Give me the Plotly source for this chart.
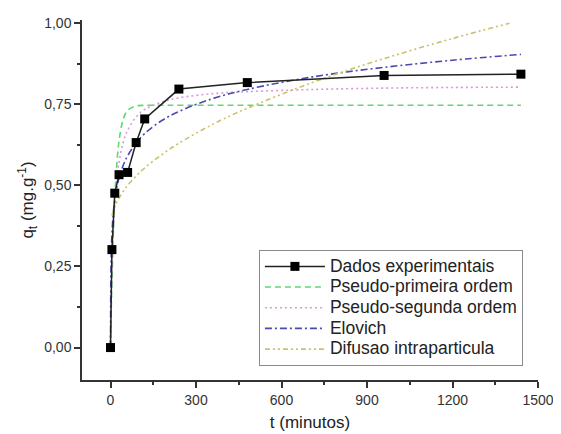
import plotly.graph_objects as go

# Experimental data
t_exp = [0, 5, 15, 30, 60, 90, 120, 240, 480, 960, 1440]
q_exp = [0.0, 0.302, 0.476, 0.533, 0.540, 0.632, 0.705, 0.797, 0.817, 0.839, 0.843]

# Model curves, values
t_mod = [0, 2, 5, 10, 15, 20, 30, 45, 60, 90, 120, 180, 240, 360, 480, 720, 960, 1200, 1440]
q_pfo = [0.0, 0.090, 0.205, 0.353, 0.461, 0.539, 0.637, 0.705, 0.731, 0.745, 0.747,
         0.747, 0.747, 0.747, 0.747, 0.747, 0.747, 0.747, 0.747]
q_pso = [0.0, 0.112, 0.231, 0.360, 0.442, 0.498, 0.572, 0.634, 0.670, 0.711, 0.734,
         0.757, 0.770, 0.783, 0.789, 0.796, 0.800, 0.802, 0.803]
q_elo = [0.0, 0.263, 0.349, 0.416, 0.456, 0.484, 0.523, 0.563, 0.591, 0.631, 0.660,
         0.700, 0.728, 0.768, 0.796, 0.836, 0.864, 0.886, 0.904]

t_dif = [5, 10, 15, 20, 30, 45, 60, 90, 120, 180, 240, 360, 480, 720, 960, 1200, 1400]
q_dif = [0.407, 0.422, 0.434, 0.444, 0.461, 0.482, 0.500, 0.529, 0.554, 0.595, 0.630,
         0.689, 0.738, 0.821, 0.891, 0.953, 1.000]

names = ["Dados experimentais", "Pseudo-primeira ordem", "Pseudo-segunda ordem",
         "Elovich", "Difusao intraparticula"]

x_ticks = [0, 300, 600, 900, 1200, 1500]
y_ticks = [0.0, 0.25, 0.5, 0.75, 1.0]

FONT = "Liberation Sans, Arial, sans-serif"


def lg(s):
    return '<span style="font-size:17.5px">' + s + '</span>'


fig = go.Figure()
fig.add_trace(go.Scatter(x=t_mod, y=q_pfo, mode="lines", name=lg(names[1]), legendrank=2,
                         line=dict(color="#5fd870", width=1.6, dash="6px,4px", shape="spline")))
fig.add_trace(go.Scatter(x=t_mod, y=q_pso, mode="lines", name=lg(names[2]), legendrank=3,
                         line=dict(color="#d79ad7", width=1.6, dash="2px,3px", shape="spline")))
fig.add_trace(go.Scatter(x=t_mod, y=q_elo, mode="lines", name=lg(names[3]), legendrank=4,
                         line=dict(color="#4a4ab0", width=1.6, dash="7px,3px,2px,3px", shape="spline")))
fig.add_trace(go.Scatter(x=t_dif, y=q_dif, mode="lines", name=lg(names[4]), legendrank=5,
                         line=dict(color="#c9c26a", width=1.6, dash="5px,3px,2px,3px,2px,3px", shape="spline")))
fig.add_trace(go.Scatter(x=t_exp, y=q_exp, mode="lines+markers", name=lg(names[0]), legendrank=1,
                         line=dict(color="#222222", width=1.5),
                         marker=dict(symbol="square", size=9, color="#000000")))

# page body has an 8px default margin, so the figure is drawn 8px in from the corner
fig.update_layout(
    width=553, height=426,
    margin=dict(l=74, r=23, t=12, b=54),
    paper_bgcolor="white", plot_bgcolor="white",
    separators=",.",
    font=dict(family=FONT, size=14, color="#333333"),
    showlegend=True,
    legend=dict(x=0.388, y=0.361, xanchor="left", yanchor="top",
                bordercolor="#8a8a8a", borderwidth=1, bgcolor="white",
                font=dict(family=FONT, size=13.6, color="#222222"),
                itemwidth=60, tracegroupgap=0),
)
fig.update_xaxes(range=[-100, 1500], tickvals=x_ticks, showgrid=False, zeroline=False,
                 automargin=False,
                 showline=True, linecolor="#333333", linewidth=1.5,
                 ticks="outside", ticklen=6, tickcolor="#333333", tickwidth=1.5,
                 minor=dict(dtick=150, tick0=0, ticks="outside", ticklen=3, tickcolor="#333333", showgrid=False),
                 tickfont=dict(size=14, color="#333333"),
                 title=dict(text="t (minutos)", font=dict(size=17, color="#222222"), standoff=10))
fig.update_yaxes(range=[-0.1, 1.01], tickvals=y_ticks, tickformat=".2f", showgrid=False, zeroline=False,
                 automargin=False,
                 showline=True, linecolor="#333333", linewidth=1.5,
                 ticks="outside", ticklen=6, tickcolor="#333333", tickwidth=1.5,
                 minor=dict(dtick=0.125, tick0=0, ticks="outside", ticklen=3, tickcolor="#333333", showgrid=False),
                 tickfont=dict(size=14, color="#333333"),
                 title=dict(text="q<sub>t</sub> (mg.g<sup>-1</sup>)", font=dict(size=17, color="#222222"), standoff=6))

fig.write_html("out.html")
